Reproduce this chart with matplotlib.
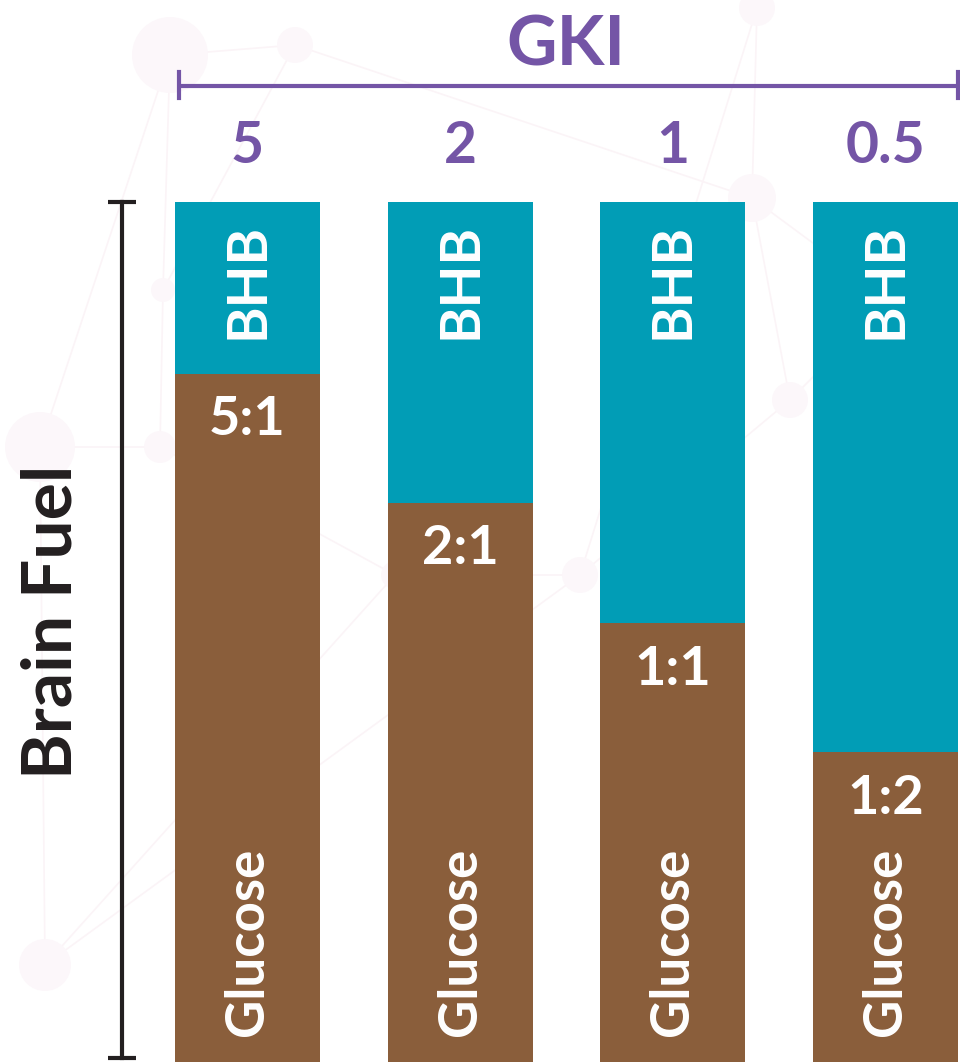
import matplotlib
matplotlib.use("Agg")
import matplotlib.pyplot as plt
from matplotlib.patches import Circle

GKI_LABELS = ["5", "2", "1", "0.5"]
RATIO_LABELS = ["5:1", "2:1", "1:1", "1:2"]
GLUCOSE = [80, 65, 51, 36]
BHB = [20, 35, 49, 64]

PURPLE = "#7455a6"
TEAL = "#019db6"
BROWN = "#8a5e3b"
BLACK = "#231f20"
NET_LINE = "#fbf4f7"
NET_NODE = "#fcf7fa"
LATO = ["Lato", "DejaVu Sans"]

# faint network in the background (pixel positions, from top-left)
NODES = [(170, 55, 38), (295, 45, 18), (757, 8, 18), (752, 198, 24),
         (40, 447, 35), (160, 447, 16), (163, 290, 12), (395, 575, 14),
         (580, 575, 18), (790, 400, 18), (45, 965, 26), (890, 300, 14)]
EDGES = [(0, 1), (0, 4), (1, 3), (2, 3), (2, 8), (3, 9), (4, 5), (5, 6),
         (6, 1), (5, 7), (7, 8), (8, 9), (9, 11), (4, 10), (10, 7), (0, 6),
         (3, 11), (8, 10)]

W, H = 960, 1062
BAR_TOP_PX = 202
fig = plt.figure(figsize=(W / 100, H / 100), dpi=100)
fig.patch.set_facecolor("white")

bg = fig.add_axes([0, 0, 1, 1], zorder=-1)
bg.set_xlim(0, W)
bg.set_ylim(H, 0)
bg.axis("off")
for a, b in EDGES:
    (xa, ya, _), (xb, yb_, _) = NODES[a], NODES[b]
    bg.plot([xa, xb], [ya, yb_], color=NET_LINE, lw=1.2, zorder=0)
for xn, yn, r in NODES:
    bg.add_patch(Circle((xn, yn), r, color=NET_NODE, lw=0, zorder=1))

ax = fig.add_axes([0, 0, 1, (H - BAR_TOP_PX) / H])
ax.patch.set_alpha(0)

x0, step = 247.5, 212.7
ax.set_xlim(-x0 / step, (W - x0) / step)
ax.set_ylim(0, 100)
ax.axis("off")
px_y = (H - BAR_TOP_PX) / 100.0  # pixels per data unit


def ypx(p):
    # pixel row (from top) -> data y
    return (H - p) / px_y


def xpx(p):
    return (p - x0) / step


xs = range(len(GKI_LABELS))
width = 145 / step
ax.bar(xs, GLUCOSE, width=width, color=BROWN, linewidth=0)
ax.bar(xs, BHB, bottom=GLUCOSE, width=width, color=TEAL, linewidth=0)

for i in xs:
    ax.annotate("BHB", (i, 100), xytext=(0, -15), textcoords="offset points",
                rotation=90, ha="center", va="top", color="white",
                fontsize=40, fontweight="bold", family=LATO)
    ax.annotate("Glucose", (i, 0), xytext=(0, 19), textcoords="offset points",
                rotation=90, ha="center", va="bottom", color="white",
                fontsize=38, fontweight="bold", family=LATO)
    ax.annotate(RATIO_LABELS[i], (i, GLUCOSE[i]), xytext=(0, -33),
                textcoords="offset points", ha="center", va="center",
                color="white", fontsize=39, fontweight="bold", family=LATO)
    ax.text(i, ypx(146), GKI_LABELS[i], ha="center", va="center",
            color=PURPLE, fontsize=41, fontweight="bold", family=LATO,
            clip_on=False)

# GKI bracket
yb = ypx(86)
ax.plot([xpx(178), xpx(958)], [yb, yb], color=PURPLE, lw=3, clip_on=False,
        solid_capstyle="butt")
for xe in (xpx(179), xpx(958)):
    ax.plot([xe, xe], [ypx(72), ypx(98)], color=PURPLE, lw=3, clip_on=False)
ax.text(xpx(566), ypx(46), "GKI", ha="center", va="center", color=PURPLE,
        fontsize=50, fontweight="bold", family=LATO, clip_on=False)

# Brain Fuel bracket
xl = xpx(122)
ax.plot([xl, xl], [ypx(1058), 100], color=BLACK, lw=3, clip_on=False)
for yy in (100, ypx(1058)):
    ax.plot([xpx(108), xpx(136)], [yy, yy], color=BLACK, lw=3, clip_on=False,
            solid_capstyle="butt")
ax.text(xpx(52), ypx(622), "Brain Fuel", rotation=90, ha="center",
        va="center", color=BLACK, fontsize=50, fontweight="bold", family=LATO)

fig.savefig("out.png", dpi=100, facecolor="white")
